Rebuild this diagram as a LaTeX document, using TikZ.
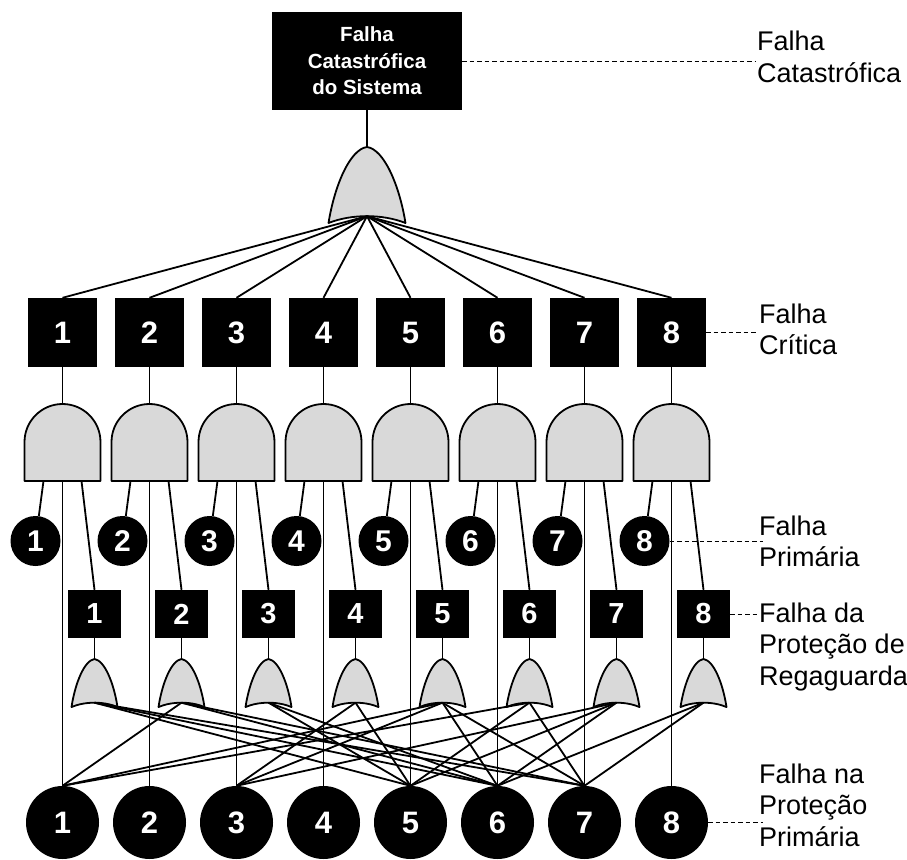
\documentclass[tikz,border=0pt]{standalone}
\usepackage{fontspec}
\setmainfont{Liberation Sans}
\definecolor{gatefillc}{RGB}{217,217,217}
\begin{document}
\begin{tikzpicture}[x=1pt,y=-1pt,
  wire/.style={line width=1.8pt},
  hint/.style={line width=0.9pt, dash pattern=on 4.5pt off 3pt},
  gatefill/.style={draw, fill=gatefillc, line width=1.8pt, line join=round},
  topbox/.style={fill=black, text=white, minimum width=190pt, minimum height=98pt,
    inner sep=0pt, align=center, font=\fontsize{20.5}{26.5}\selectfont\bfseries},
  critbox/.style={fill=black, text=white, minimum width=69pt, minimum height=69pt,
    inner sep=0pt, font=\fontsize{31}{31}\selectfont\bfseries},
  backbox/.style={fill=black, text=white, minimum width=53pt, minimum height=48pt,
    inner sep=0pt, font=\fontsize{29}{29}\selectfont\bfseries},
  primsmall/.style={circle, fill=black, text=white, minimum size=50pt,
    inner sep=0pt, font=\fontsize{30}{30}\selectfont\bfseries},
  primbig/.style={circle, fill=black, text=white, minimum size=73pt,
    inner sep=0pt, font=\fontsize{31}{31}\selectfont\bfseries},
  legend/.style={anchor=north west, inner sep=0pt, align=left,
    font=\fontsize{27}{31.5}\selectfont},
  orgate/.pic={
    \path[gatefill] (0,0) .. controls (-0.22,0.03) and (-0.42,0.5) .. (-0.5,1)
      .. controls (-0.2,0.88) and (0.2,0.88) .. (0.5,1)
      .. controls (0.42,0.5) and (0.22,0.03) .. (0,0) -- cycle;
    \coordinate (-in) at (0,0);
    \coordinate (-out) at (0,0.91);
  },
  andgate/.pic={
    \path[gatefill] (-0.5,1) -- (-0.5,0.494)
      .. controls (-0.5,0.221) and (-0.276,0) .. (0,0)
      .. controls (0.276,0) and (0.5,0.221) .. (0.5,0.494)
      -- (0.5,1) -- cycle;
    \coordinate (-in) at (0,0);
    \coordinate (-l) at (-0.25,1);
    \coordinate (-m) at (0,1);
    \coordinate (-r) at (0.25,1);
  }
]
\useasboundingbox (0,0) rectangle (907,859);

% top event and its OR gate
\node[topbox] (top) at (367,61) {Falha\\Catastrófica\\do Sistema};
\pic[xscale=77, yscale=76] (tor) at (367,147) {orgate};
\draw[wire] (top.south) -- (tor-in);

% the eight branches
\foreach \i in {1,...,8}{
  \pgfmathsetmacro\xx{62.5+87*(\i-1)}
  \node[critbox] (c\i) at (\xx,332.5) {\i};
  \pic[xscale=76, yscale=77] (a\i) at (\xx,404) {andgate};
  \node[primsmall] (p\i) at (\xx-27,541) {\i};
  \node[backbox] (b\i) at (\xx+32,614) {\i};
  \pic[xscale=46, yscale=48] (o\i) at (\xx+32,659) {orgate};
  \node[primbig] (q\i) at (\xx,822.5) {\i};
  \draw[wire] (tor-out) -- (c\i.north);
  \draw[wire] (c\i.south) -- (a\i-in);
  \draw[wire] (a\i-l) -- (p\i);
  \draw[wire] (a\i-m) -- (q\i.north);
  \draw[wire] (a\i-r) -- (b\i.north);
  \draw[wire] (b\i.south) -- (o\i-in);
}

% backup protection inputs
\foreach \g/\t in {1/5,1/6,1/7, 2/1,2/6,2/7, 3/5,3/6, 4/3,4/5,
                   5/1,5/3,5/6,5/7, 6/1,6/5,6/7, 7/3,7/5,7/6, 8/6,8/7}{
  \draw[wire] (o\g-out) -- (q\t.north);
}

% level legends
\coordinate (dcat) at (755,61);
\coordinate (dcri) at (757,332.5);
\coordinate (dpri) at (763,541);
\coordinate (dreg) at (759,614);
\coordinate (dpp) at (763,822.5);
\draw[hint] (top.east) -- (dcat);
\draw[hint] (c8.east) -- (dcri);
\draw[hint] (p8.east) -- (dpri);
\draw[hint] (b8.east) -- (dreg);
\draw[hint] (q8.east) -- (dpp);
\node[legend] (lcat) at (757,31) {Falha\\Catastrófica};
\node[legend] (lcri) at (759,303.5) {Falha\\Crítica};
\node[legend] (lpri) at (759,515.5) {Falha\\Primária};
\node[legend] (lreg) at (759,602.5) {Falha da\\Proteção de\\Regaguarda};
\node[legend] (lpp) at (759,763.5) {Falha na\\Proteção\\Primária};
\end{tikzpicture}
\end{document}
